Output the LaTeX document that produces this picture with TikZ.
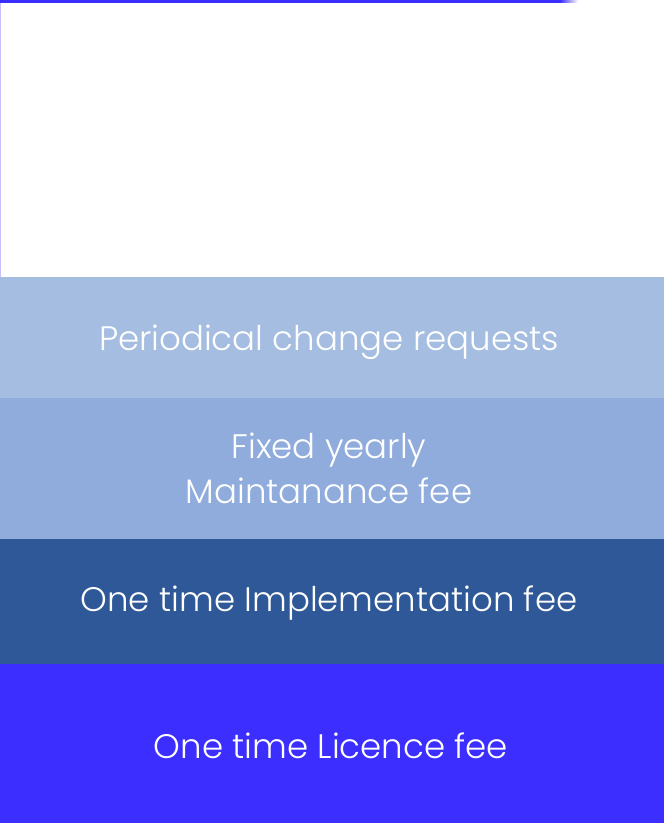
\documentclass[tikz,border=0pt]{standalone}
\usepackage{fontspec}
\setmainfont{Poppins}[UprightFont=* Light]
\definecolor{edgeblue}{HTML}{3A2EFD}
\definecolor{bandA}{HTML}{A4BDE0}
\definecolor{bandB}{HTML}{8FACDC}
\definecolor{bandC}{HTML}{2E5897}
\definecolor{bandD}{HTML}{3B2EFE}
\tikzset{
    band/.style={minimum width=664pt, inner sep=0pt, text=white,
        font=\fontsize{34}{45}\selectfont, align=center, anchor=north west},
}
\begin{document}
\begin{tikzpicture}[x=1pt, y=-1pt]
    \useasboundingbox (0,0) rectangle (664,823);
    % frame of the empty area
    \draw[edgeblue!30, line width=1pt] (0.5,0) -- (0.5,277);
    \fill[edgeblue] (0,0) rectangle (560,2.5);
    \shade[left color=edgeblue, right color=white] (560,0) rectangle (578,2.5);
    % bands
    \node[band, fill=bandA, minimum height=121pt] (change) at (0,277) {};
    \node[band, fill=bandB, minimum height=141pt] (maint) at (0,398) {};
    \node[band, fill=bandC, minimum height=125pt] (impl) at (0,539) {};
    \node[band, fill=bandD, minimum height=159pt] (licence) at (0,664) {};
    % labels
    \node[band, anchor=center] (changetext) at (329,342) {Periodical change requests};
    \node[band, anchor=center] (mainttext) at (329,468) {Fixed yearly\\Maintanance fee};
    \node[band, anchor=center] (impltext) at (329,603) {One time Implementation fee};
    \node[band, anchor=center] (licencetext) at (331,746) {One time Licence fee};
\end{tikzpicture}
\end{document}
